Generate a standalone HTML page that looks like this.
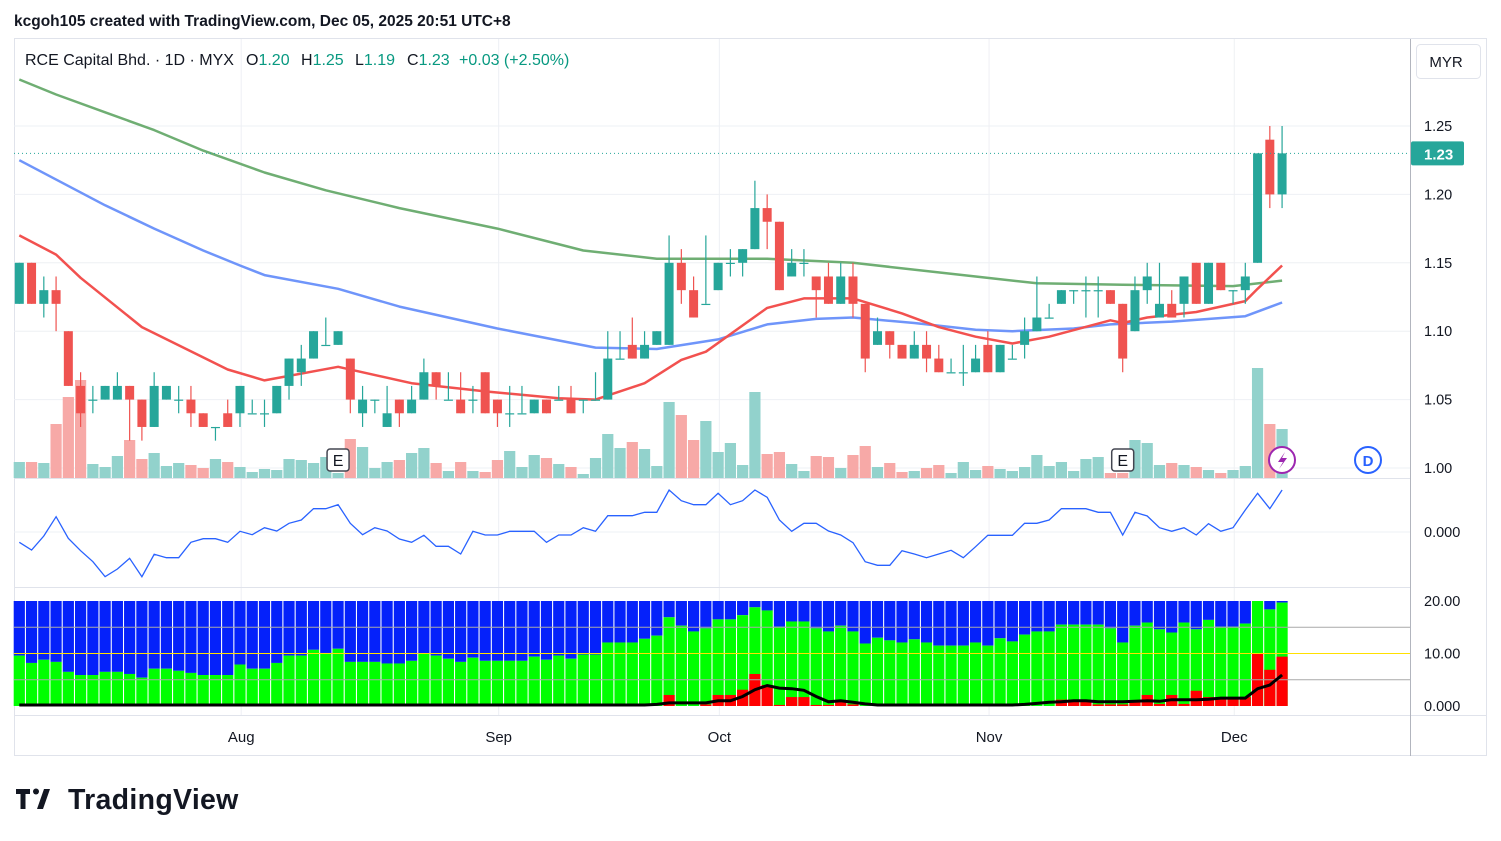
<!DOCTYPE html>
<html><head><meta charset="utf-8"><style>
html,body{margin:0;padding:0;background:#fff;}
svg{display:block;font-family:"Liberation Sans",sans-serif;}
</style></head><body>
<svg id="chart" width="1501" height="841" viewBox="0 0 1501 841" xmlns="http://www.w3.org/2000/svg">
<rect x="0" y="0" width="1501" height="841" fill="#ffffff"/>
<text x="14" y="26" font-size="15.5" fill="#131722" font-weight="bold">kcgoh105 created with TradingView.com, Dec 05, 2025 20:51 UTC+8</text>
<rect x="14.5" y="38.5" width="1472" height="717" fill="none" stroke="#e0e3eb"/>
<g id="grid"></g>
<g id="vol"></g>
<g id="mas"></g>
<g id="candles"></g>
<g id="osc"></g>
<g id="pane3"></g>
<g id="axes"></g>
<g font-size="16">
<text x="25" y="65" fill="#131722">RCE Capital Bhd. · 1D · MYX</text>
<text x="246" y="65" fill="#131722">O<tspan fill="#089981">1.20</tspan></text>
<text x="301" y="65" fill="#131722">H<tspan fill="#089981">1.25</tspan></text>
<text x="355" y="65" fill="#131722">L<tspan fill="#089981">1.19</tspan></text>
<text x="407" y="65" fill="#131722">C<tspan fill="#089981">1.23</tspan></text>
<text x="459" y="65" fill="#089981">+0.03 (+2.50%)</text>
</g>
<g>
<rect x="1416.5" y="44.5" width="64" height="34" rx="4" fill="#fff" stroke="#e0e3eb"/>
<text x="1446" y="67" font-size="15" text-anchor="middle" fill="#131722">MYR</text>
</g>
<g>
<path d="M16 789h14v5h-4.5v15h-5v-15H16z" fill="#131722"/>
<circle cx="36" cy="791.5" r="3" fill="#131722"/>
<path d="M44 789h6l-7 20h-6z" fill="#131722"/>
<text x="68" y="809" font-size="28.5" font-weight="bold" fill="#131722" letter-spacing="0.3">TradingView</text>
</g>
<script>
const opens=[1.12,1.15,1.12,1.13,1.10,1.06,1.05,1.05,1.05,1.06,1.05,1.03,1.05,1.05,1.05,1.04,1.03,1.04,1.04,1.04,1.04,1.04,1.06,1.07,1.08,1.09,1.09,1.08,1.04,1.05,1.03,1.05,1.04,1.05,1.07,1.05,1.05,1.05,1.07,1.05,1.04,1.04,1.04,1.05,1.05,1.05,1.05,1.05,1.05,1.08,1.09,1.08,1.09,1.09,1.15,1.13,1.12,1.13,1.15,1.15,1.16,1.19,1.18,1.14,1.15,1.14,1.14,1.12,1.14,1.12,1.09,1.10,1.09,1.08,1.09,1.08,1.07,1.07,1.07,1.09,1.07,1.08,1.09,1.10,1.11,1.12,1.13,1.13,1.13,1.13,1.12,1.10,1.13,1.11,1.12,1.12,1.15,1.12,1.15,1.13,1.13,1.15,1.24,1.20];
const highs=[1.15,1.15,1.14,1.14,1.10,1.07,1.06,1.06,1.07,1.06,1.05,1.07,1.06,1.06,1.06,1.04,1.03,1.05,1.06,1.05,1.05,1.06,1.08,1.09,1.10,1.11,1.10,1.08,1.06,1.05,1.06,1.05,1.06,1.08,1.07,1.07,1.07,1.06,1.07,1.05,1.06,1.06,1.05,1.05,1.06,1.06,1.05,1.07,1.10,1.10,1.11,1.10,1.10,1.17,1.16,1.14,1.17,1.15,1.16,1.16,1.21,1.20,1.18,1.16,1.16,1.14,1.15,1.15,1.15,1.12,1.11,1.10,1.09,1.10,1.10,1.09,1.08,1.09,1.09,1.10,1.09,1.09,1.11,1.14,1.12,1.13,1.13,1.14,1.14,1.13,1.12,1.14,1.15,1.15,1.13,1.14,1.15,1.15,1.15,1.13,1.15,1.23,1.25,1.25];
const lows=[1.12,1.12,1.11,1.10,1.06,1.03,1.04,1.05,1.05,1.02,1.02,1.03,1.05,1.04,1.03,1.03,1.02,1.03,1.03,1.04,1.03,1.04,1.05,1.06,1.08,1.09,1.09,1.04,1.03,1.04,1.03,1.03,1.04,1.05,1.05,1.05,1.04,1.04,1.04,1.03,1.03,1.04,1.04,1.04,1.05,1.04,1.04,1.05,1.05,1.08,1.08,1.08,1.09,1.09,1.12,1.11,1.12,1.13,1.14,1.14,1.16,1.16,1.13,1.14,1.14,1.11,1.12,1.12,1.11,1.07,1.09,1.08,1.08,1.08,1.07,1.07,1.07,1.06,1.07,1.07,1.07,1.08,1.08,1.10,1.11,1.12,1.12,1.11,1.11,1.12,1.07,1.10,1.12,1.11,1.11,1.11,1.12,1.12,1.13,1.12,1.12,1.15,1.19,1.19];
const closes=[1.15,1.12,1.13,1.12,1.06,1.04,1.05,1.06,1.06,1.05,1.03,1.06,1.06,1.05,1.04,1.03,1.03,1.03,1.06,1.04,1.04,1.06,1.08,1.08,1.10,1.09,1.10,1.05,1.05,1.05,1.04,1.04,1.05,1.07,1.06,1.05,1.04,1.05,1.04,1.04,1.04,1.04,1.05,1.04,1.05,1.04,1.05,1.05,1.08,1.08,1.08,1.09,1.10,1.15,1.13,1.11,1.12,1.15,1.15,1.16,1.19,1.18,1.13,1.15,1.15,1.13,1.12,1.14,1.12,1.08,1.10,1.09,1.08,1.09,1.08,1.07,1.07,1.07,1.08,1.07,1.09,1.08,1.10,1.11,1.11,1.13,1.13,1.13,1.13,1.12,1.08,1.13,1.14,1.12,1.11,1.14,1.12,1.15,1.13,1.13,1.14,1.23,1.20,1.23];
const volumes=[16,16,15,54,81,98,14,11,22,38,19,25,12,15,13,10,19,16,11,6,9,8,19,18,15,21,5,39,31,10,16,18,25,30,15,7,16,7,6,18,27,11,23,20,14,11,4,20,44,30,36,29,12,76,63,38,57,26,35,13,86,24,26,14,7,22,21,10,23,32,11,15,6,7,10,13,5,16,8,12,9,7,11,23,12,16,7,19,21,5,5,38,35,13,15,13,11,8,5,8,12,110,54,49];
const ma20Idx=[0,3,5,10,17,20,26,32,38,44,47,51,54,56,61,64,68,72,75,78,81,84,89,90,92,96,100,101,103];
const ma20Val=[1.170,1.156,1.139,1.103,1.072,1.064,1.074,1.062,1.056,1.051,1.050,1.062,1.079,1.085,1.117,1.124,1.124,1.113,1.103,1.096,1.091,1.096,1.108,1.106,1.110,1.114,1.122,1.131,1.148];
const ma50Idx=[0,7,11,15,18,20,26,31,39,47,52,57,61,65,68,73,78,81,86,89,94,100,103];
const ma50Val=[1.225,1.192,1.175,1.159,1.148,1.141,1.131,1.118,1.102,1.088,1.087,1.094,1.105,1.109,1.110,1.106,1.101,1.100,1.102,1.105,1.107,1.111,1.121];
const ma200Idx=[0,3,7,11,15,20,25,31,39,46,52,61,68,78,83,90,99,103];
const ma200Val=[1.284,1.273,1.260,1.247,1.232,1.216,1.203,1.190,1.175,1.159,1.153,1.153,1.150,1.140,1.135,1.134,1.133,1.137];
const oscVals=[-31,-54,-12,46,-19,-56,-89,-134,-111,-79,-134,-67,-77,-77,-31,-20,-20,-31,2,-8,13,3,26,36,70,70,82,26,-8,13,3,-21,-31,-10,-43,-43,-66,2,-9,-9,2,2,2,-31,-9,-9,13,2,49,49,49,59,59,126,94,82,82,116,82,94,126,104,36,2,26,26,3,-9,-32,-89,-100,-100,-56,-66,-77,-66,-55,-77,-44,-10,-10,-10,26,26,36,70,70,70,59,59,-9,59,48,13,2,13,-9,25,2,13,66,116,70,126];
const greenVals=[9.6,8.2,8.8,8.4,6.5,5.9,5.9,6.5,6.5,6.1,5.4,7.1,7.1,6.7,6.3,5.9,5.9,5.9,7.9,7.1,7.1,8.2,9.6,9.6,10.7,10.1,10.9,8.4,8.4,8.4,8.1,8.1,8.6,10.0,9.6,9.0,8.4,9.2,8.6,8.6,8.6,8.6,9.4,8.8,9.6,9.0,9.8,9.8,12.1,12.1,12.1,12.8,13.4,16.9,15.3,14.2,14.8,16.5,16.5,17.3,18.8,18.2,15.1,16.1,16.1,14.8,14.2,15.3,14.2,11.9,13.0,12.5,12.1,12.7,12.1,11.5,11.5,11.5,12.1,11.5,12.9,12.3,13.6,14.2,14.2,15.5,15.5,15.5,15.5,14.8,12.1,15.3,15.9,14.6,14.0,15.9,14.6,16.4,15.1,15.1,15.7,20.0,18.4,19.7];
const redVals=[0,0,0,0,0,0,0,0,0,0,0,0,0,0,0,0,0,0,0,0,0,0,0,0,0,0,0,0,0,0,0,0,0,0,0,0,0,0,0,0,0,0,0,0,0,0,0,0,0,0,0,0,0,2.1,0,0,0.3,2.1,2.1,3.1,6.1,4.0,0.2,1.7,1.7,0.2,0.2,1.0,0.3,0,0,0,0,0,0,0,0,0,0,0,0,0,0,0,0,1.2,1.2,0.8,0.3,0.3,0.3,1.0,2.1,0.4,2.1,0.4,2.9,1.7,1.7,1.7,1.7,10.0,6.9,9.4];
const blackVals=[0.2,0.2,0.2,0.2,0.2,0.2,0.2,0.2,0.2,0.2,0.2,0.2,0.2,0.2,0.2,0.2,0.2,0.2,0.2,0.2,0.2,0.2,0.2,0.2,0.2,0.2,0.2,0.2,0.2,0.2,0.2,0.2,0.2,0.2,0.2,0.2,0.2,0.2,0.2,0.2,0.2,0.2,0.2,0.2,0.2,0.2,0.2,0.2,0.2,0.2,0.2,0.2,0.3,0.6,0.6,0.6,0.6,1.0,1.0,1.8,3.1,3.9,3.4,3.3,3.0,1.8,0.8,1.0,0.7,0.4,0.2,0.2,0.2,0.2,0.2,0.2,0.2,0.2,0.2,0.2,0.2,0.2,0.3,0.5,0.7,0.8,1.0,1.0,0.8,0.8,0.8,0.9,1.0,0.9,1.2,1.2,1.2,1.3,1.5,1.5,1.5,3.3,4.0,5.9];
const priceTicks=[1.00,1.05,1.10,1.15,1.20,1.25];
const pane3Ticks=[0,10,20];
const monthLabels=["Aug","Sep","Oct","Nov","Dec"];
const monthIdx=[18.1,39.1,57.1,79.1,99.1];
const lastPrice=1.23;

const NS="http://www.w3.org/2000/svg";
function mk(tag,attrs,parent){const e=document.createElementNS(NS,tag);for(const k in attrs)e.setAttribute(k,attrs[k]);parent.appendChild(e);return e;}
const X=i=>19.3+i*12.26;
const PY=p=>468-(p-1)*1368;
const VY=v=>478-v;
const OY=v=>532-v/3;
const BY=v=>706-v*5.25;
const TEAL="#26a69a",RED="#ef5350";
const grid=document.getElementById('grid');
priceTicks.forEach(p=>{const l=mk('line',{x1:14,x2:1410,y1:PY(p),y2:PY(p),stroke:'#eef0f4'},grid);});
monthIdx.forEach(i=>{const l=mk('line',{x1:X(i),x2:X(i),y1:39,y2:715,stroke:'#eef0f4'},grid);});
mk('line',{x1:14,x2:1410,y1:478.5,y2:478.5,stroke:'#e0e3eb'},grid);
mk('line',{x1:14,x2:1410,y1:587.5,y2:587.5,stroke:'#e0e3eb'},grid);
mk('line',{x1:14,x2:1487,y1:715.5,y2:715.5,stroke:'#e0e3eb'},grid);
mk('line',{x1:1410.5,x2:1410.5,y1:39,y2:756,stroke:'#b2b5be'},grid);
mk('line',{x1:14,x2:1410,y1:532,y2:532,stroke:'#eef0f4'},grid);
const vg=document.getElementById('vol');
volumes.forEach((v,i)=>{const up=closes[i]>=opens[i];const r=mk('rect',{x:X(i)-5.6,y:VY(v),width:11.2,height:v,fill:up?'#92d2cc':'#f7a9a7'},vg);});
const mg=document.getElementById('mas');
function ma(idx,val,color,name){const d=idx.map((ix,k)=>(k?'L':'M')+X(ix).toFixed(1)+' '+PY(val[k]).toFixed(1)).join(' ');const p=mk('path',{d:d,fill:'none',stroke:color,'stroke-width':2.5,'stroke-linejoin':'round'},mg);}
ma(ma200Idx,ma200Val,'#6fae73','ma200-line');
ma(ma50Idx,ma50Val,'#6f95fa','ma50-line');
ma(ma20Idx,ma20Val,'#f2514f','ma20-line');
const cg=document.getElementById('candles');
opens.forEach((o,i)=>{const c=closes[i];const col=c>=o?TEAL:RED;const x=X(i);
const w=mk('line',{x1:x,x2:x,y1:PY(highs[i]),y2:PY(lows[i]),stroke:col,'stroke-width':1.2},cg);
const top=PY(Math.max(o,c)),bot=PY(Math.min(o,c));
const b=mk('rect',{x:x-4.5,y:top,width:9,height:Math.max(1.2,bot-top),fill:col},cg);});
mk('line',{x1:14,x2:1410,y1:PY(lastPrice),y2:PY(lastPrice),stroke:TEAL,'stroke-dasharray':'1 3'},cg);
const og=document.getElementById('osc');
const od=oscVals.map((v,i)=>(i?'L':'M')+X(i).toFixed(1)+' '+OY(v).toFixed(1)).join(' ');
const op=mk('path',{d:od,fill:'none',stroke:'#2962ff','stroke-width':1.3},og);
const pg=document.getElementById('pane3');
greenVals.forEach((g,i)=>{const x=X(i)-5.6;
const bl=mk('rect',{x:x,y:BY(20),width:11.2,height:BY(g)-BY(20),fill:'#0521fa'},pg);
const gr=mk('rect',{x:x,y:BY(g),width:11.2,height:BY(0)-BY(g),fill:'#00ff00'},pg);
if(redVals[i]>0){const rd=mk('rect',{x:x,y:BY(redVals[i]),width:11.2,height:BY(0)-BY(redVals[i]),fill:'#ff0000'},pg);}});
[[15,'#a9a9a9'],[10,'#ffe000'],[5,'#a9a9a9']].forEach(h=>{mk('line',{x1:14,x2:1410,y1:BY(h[0]),y2:BY(h[0]),stroke:h[1],'stroke-width':1},pg);});
const bd=blackVals.map((v,i)=>(i?'L':'M')+X(i).toFixed(1)+' '+BY(v).toFixed(1)).join(' ');
const bp=mk('path',{d:bd,fill:'none',stroke:'#000','stroke-width':3},pg);
const ag=document.getElementById('axes');
priceTicks.forEach(p=>{const t=mk('text',{x:1424,y:PY(p)+5,'font-size':14.5,fill:'#131722'},ag);t.textContent=p.toFixed(2);});
const ot=mk('text',{x:1424,y:537,'font-size':14.5,fill:'#131722'},ag);ot.textContent='0.000';
pane3Ticks.forEach(v=>{const t=mk('text',{x:1424,y:BY(v)+5,'font-size':14.5,fill:'#131722'},ag);t.textContent=v===0?'0.000':v.toFixed(2);});
monthLabels.forEach((m,k)=>{const t=mk('text',{x:X(monthIdx[k]),y:742,'font-size':15,fill:'#131722','text-anchor':'middle'},ag);t.textContent=m;});
const pl=mk('rect',{x:1411,y:PY(lastPrice)-12,width:53,height:24,rx:2,fill:TEAL},ag);
const plt=mk('text',{x:1424,y:PY(lastPrice)+6,'font-size':15,fill:'#fff','font-weight':'bold'},ag);plt.textContent=lastPrice.toFixed(2);
function ebox(i,name){const g=mk('g',{},ag);
mk('rect',{x:X(i)-11,y:449,width:22,height:22,rx:3,fill:'#fff',stroke:'#434651','stroke-width':1.5},g);
const t=mk('text',{x:X(i),y:466,'font-size':16,'text-anchor':'middle',fill:'#131722'},g);t.textContent='E';}
ebox(26,'earnings-marker');ebox(90,'earnings-marker');
const lg=mk('g',{},ag);
mk('circle',{cx:1282,cy:460,r:13,fill:'#fff',stroke:'#9c27b0','stroke-width':2},lg);
mk('path',{d:'M1285 452 L1278 462 L1283 462 L1279 469 L1287 458 L1282 458 Z',fill:'#9c27b0'},lg);
const dg=mk('g',{},ag);
mk('circle',{cx:1368,cy:460,r:13,fill:'#fff',stroke:'#2962ff','stroke-width':2},dg);
const dt=mk('text',{x:1368,y:466,'font-size':15,'text-anchor':'middle',fill:'#2962ff','font-weight':'bold'},dg);dt.textContent='D';
</script>
</svg>
</body></html>
